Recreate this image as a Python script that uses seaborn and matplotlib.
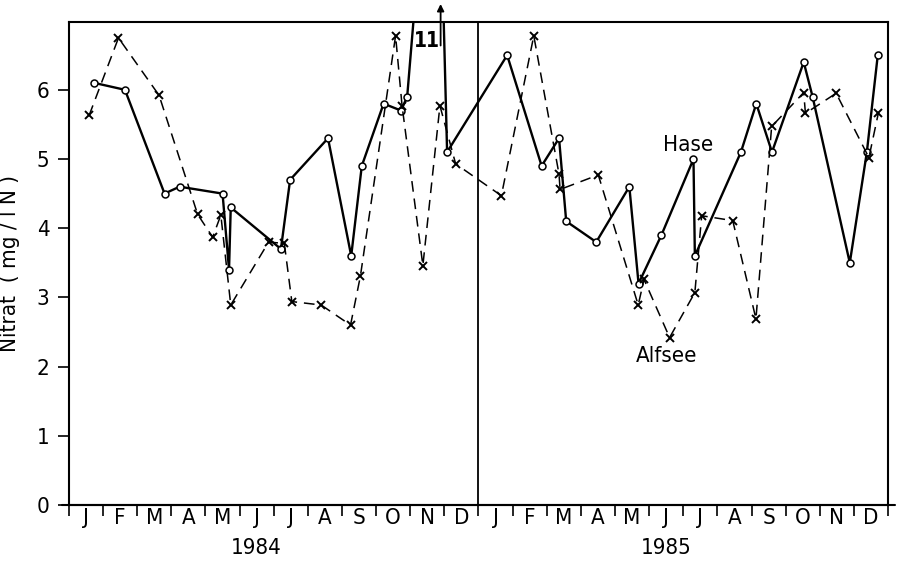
import matplotlib
matplotlib.use("Agg")
import matplotlib.pyplot as plt
import seaborn as sns

# ------ DATA ------ #
# x = months since 1 Jan 1984 (0..24), y = nitrate in mg/l N

hase_x = [0.74, 1.64, 2.80, 3.24, 4.50, 4.69, 4.74, 6.21, 6.48, 7.59, 8.27, 8.58,
          9.22, 9.73, 9.91, 10.77, 11.08, 12.84, 13.85, 14.36, 14.57, 15.45, 16.42,
          16.69, 17.36, 18.30, 18.34, 19.69, 20.14, 20.60, 21.53, 21.79, 22.88,
          23.38, 23.70]
hase_y = [6.1, 6.0, 4.5, 4.6, 4.5, 3.4, 4.3, 3.7, 4.7, 5.3, 3.6, 4.9,
          5.8, 5.7, 5.9, 11.0, 5.1, 6.5, 4.9, 5.3, 4.1, 3.8, 4.6,
          3.2, 3.9, 5.0, 3.6, 5.1, 5.8, 5.1, 6.4, 5.9, 3.5,
          5.1, 6.5]

alfsee_x = [0.59, 1.45, 2.64, 3.77, 4.21, 4.45, 4.74, 5.85, 6.31, 6.53, 7.39, 8.25,
            8.54, 9.57, 9.76, 10.37, 10.87, 11.33, 12.67, 13.62, 14.36, 14.39, 15.51,
            16.68, 16.85, 17.60, 18.34, 18.54, 19.45, 20.13, 20.59, 21.53, 21.58,
            22.48, 23.44, 23.72]
alfsee_y = [5.63, 6.75, 5.92, 4.20, 3.87, 4.19, 2.89, 3.80, 3.78, 2.94, 2.89, 2.60,
            3.31, 6.78, 5.77, 3.46, 5.77, 4.93, 4.47, 6.78, 4.78, 4.56, 4.77,
            2.89, 3.26, 2.42, 3.07, 4.18, 4.11, 2.69, 5.47, 5.96, 5.66,
            5.95, 5.02, 5.67]

month_labels = ["J", "F", "M", "A", "M", "J", "J", "A", "S", "O", "N", "D"] * 2
years = ["1984", "1985"]
y_ticks = [0, 1, 2, 3, 4, 5, 6]

# ------ STYLE ------ #

sns.set_style("ticks")
plt.rcParams["font.family"] = ["DejaVu Sans"]
plt.rcParams["font.stretch"] = "condensed"
plt.rcParams["text.color"] = "black"
plt.rcParams["axes.labelcolor"] = "black"
plt.rcParams["xtick.color"] = "black"
plt.rcParams["ytick.color"] = "black"
plt.rcParams["axes.edgecolor"] = "black"

fig = plt.figure(figsize=(9.03, 5.61), dpi=100)
ax = fig.add_axes([0.0764, 0.0998, 0.907, 0.861])

# ------ LINES ------ #

sns.lineplot(x=hase_x, y=hase_y, ax=ax, color="black", lw=1.7, sort=False,
             estimator=None, marker="o", markersize=5, markerfacecolor="white",
             markeredgecolor="black", markeredgewidth=1.1)
sns.lineplot(x=alfsee_x, y=alfsee_y, ax=ax, color="black", lw=1.1, sort=False,
             estimator=None, marker="x", markersize=6, markeredgewidth=1.4,
             markeredgecolor="black", linestyle=(0, (7, 4.5)))

ax.axvline(12, color="black", lw=1.3)
# baseline runs a little past both side spines, like in the original
ax.axhline(0, xmin=-0.008, xmax=1.008, color="black", lw=1.5, clip_on=False)

# ------ AXES ------ #

ax.set_xlim(0, 24)
ax.set_ylim(0, 6.98)
ax.set_yticks(y_ticks)
ax.set_yticklabels([str(t) for t in y_ticks], fontsize=16)
ax.set_xticks(range(25))
ax.set_xticklabels([])
ax.set_xticks([m + 0.5 for m in range(24)], minor=True)
ax.set_xticklabels(month_labels, minor=True, fontsize=16)
ax.tick_params(axis="x", which="major", direction="out", length=8, width=1.2)
ax.tick_params(axis="x", which="minor", length=0, pad=2)
ax.tick_params(axis="y", direction="out", length=8, width=1.2, pad=6)
for s in ax.spines.values():
    s.set_linewidth(1.5)
    s.set_visible(True)

ax.set_ylabel("Nitrat  ( mg / l N )", fontsize=16, labelpad=12)

for i, yr in enumerate(years):
    ax.text(5.5 + 12 * i, -0.62, yr, ha="center", va="center", fontsize=16)

# ------ ANNOTATIONS ------ #

ax.text(10.5, 6.7, "11", fontsize=15, fontweight="bold", ha="center", va="center")
ax.annotate("", xy=(10.89, 7.28), xytext=(10.89, 6.6),
            arrowprops=dict(arrowstyle="-|>", color="black", lw=1.3), annotation_clip=False)
ax.text(17.4, 5.2, "Hase", fontsize=16, ha="left", va="center")
ax.text(16.6, 2.15, "Alfsee", fontsize=16, ha="left", va="center")

fig.savefig("out.png", dpi=100)
